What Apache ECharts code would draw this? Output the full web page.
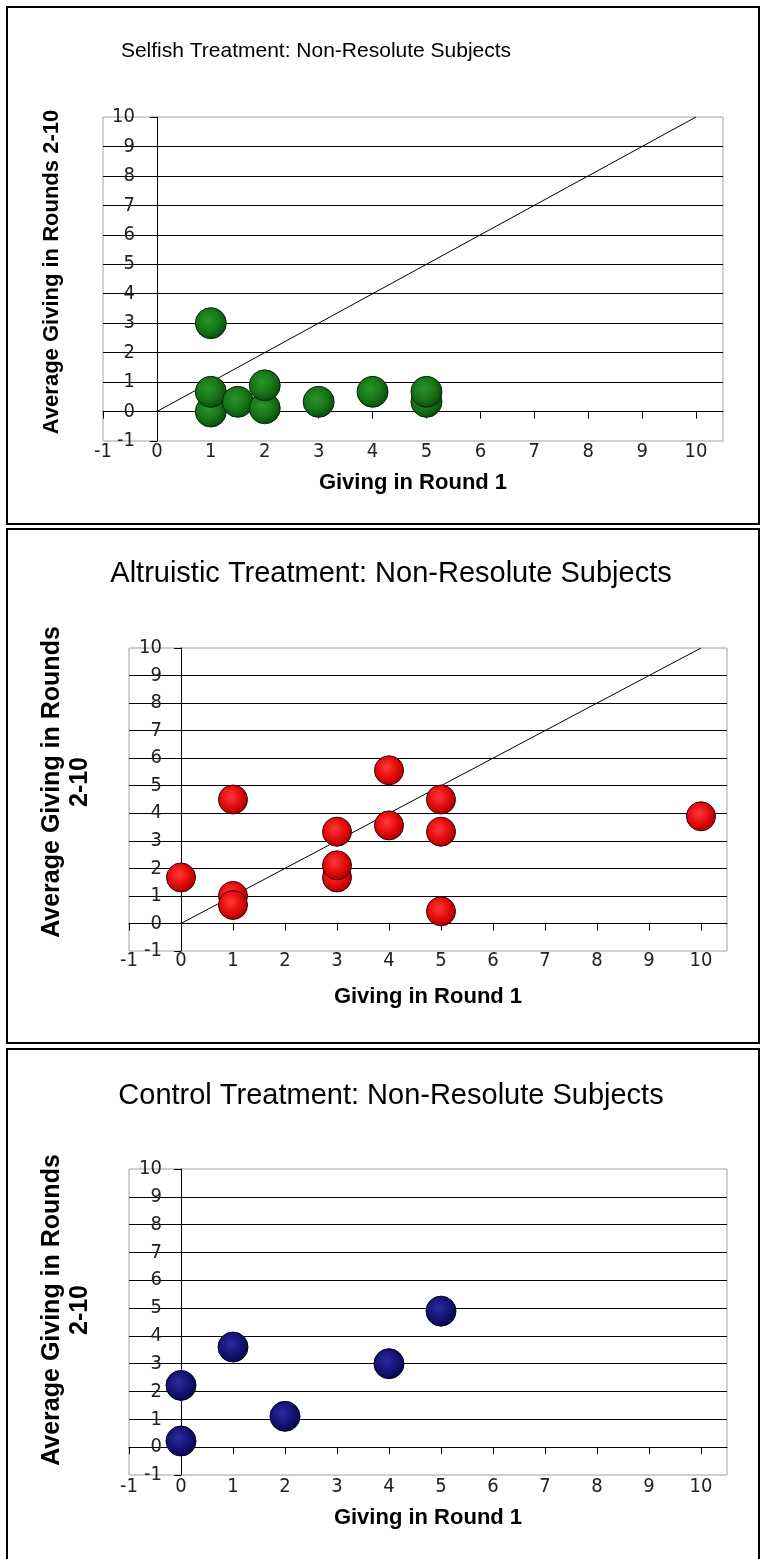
<!DOCTYPE html>
<html>
<head>
<meta charset="utf-8">
<script src="https://cdn.jsdelivr.net/npm/echarts@6/dist/echarts.min.js"></script>
<style>
html,body{margin:0;padding:0;background:#fff;}
#c{width:762px;height:1559px;}
</style>
</head>
<body>
<div id="c"></div>
<script>
// ---- data ----
const xTicks = [-1, 0, 1, 2, 3, 4, 5, 6, 7, 8, 9, 10];
const diagonal = [[0, 0], [10, 10]];

const selfishX = [1, 1, 1, 1.5, 2, 2, 3, 4, 5, 5];
const selfishY = [0, 0.67, 3, 0.33, 0.11, 0.89, 0.33, 0.67, 0.33, 0.67];

const altruisticX = [0, 1, 1, 1, 3, 3, 3, 4, 4, 5, 5, 5, 10];
const altruisticY = [1.67, 1.0, 0.67, 4.5, 1.67, 2.11, 3.33, 3.56, 5.56, 0.44, 3.33, 4.5, 3.89];

const controlX = [0, 0, 1, 2, 4, 5];
const controlY = [0.22, 2.22, 3.6, 1.11, 3.0, 4.89];

const titles = [
  'Selfish Treatment: Non-Resolute Subjects',
  'Altruistic Treatment: Non-Resolute Subjects',
  'Control Treatment: Non-Resolute Subjects'
];
const xTitle = 'Giving in Round 1';
const yTitles = ['Average Giving in Rounds 2-10', 'Average Giving in Rounds\n2-10', 'Average Giving in Rounds\n2-10'];

// ---- helpers ----
const pairs = (xs, ys) => xs.map((x, i) => [x, ys[i]]);
const tickFont = "'Liberation Sans Narrow', 'Arial Narrow', 'DejaVu Sans Condensed', 'Liberation Sans', Arial, sans-serif";
const textFont = "'Liberation Sans', Arial, sans-serif";

const grids = [
  {left: 103, top: 117, width: 620, height: 324},
  {left: 129, top: 648, width: 598, height: 303},
  {left: 129, top: 1169, width: 598, height: 306}
];
const xLabelMargin = [1, 0, 2];
const yLabelMargin = [32, 33, 33];

function sphere(c0, c1, c2) {
  return {
    type: 'radial', x: 0.42, y: 0.4, r: 0.62,
    colorStops: [
      {offset: 0, color: c0},
      {offset: 0.55, color: c1},
      {offset: 1, color: c2}
    ]
  };
}
const styles = [
  {color: sphere('#2a952a', '#187618', '#0a480a'), borderColor: '#062806'},
  {color: sphere('#ff3a3a', '#e60c0c', '#a30000'), borderColor: '#3a0000'},
  {color: sphere('#2c2ca0', '#141478', '#06064a'), borderColor: '#000022'}
];
const sizes = [31, 29, 30];

const option = {
  animation: false,
  backgroundColor: '#fff',
  grid: grids.map(g => Object.assign({
    show: true, borderColor: '#a0a0a0', borderWidth: 1,
    backgroundColor: 'transparent', containLabel: false, outerBoundsMode: 'none'
  }, g)),
  xAxis: grids.map((g, i) => ({
    type: 'value', gridIndex: i, min: -1, max: 10.5, interval: 1,
    axisLine: {onZero: true, lineStyle: {color: '#000', width: 1}},
    axisTick: {show: true, length: 7, lineStyle: {color: '#000'}, customValues: xTicks},
    axisLabel: {
      color: '#222', fontFamily: tickFont, fontSize: 20, margin: xLabelMargin[i],
      customValues: xTicks
    },
    splitLine: {show: false}
  })),
  yAxis: grids.map((g, i) => ({
    type: 'value', gridIndex: i, min: -1, max: 10, interval: 1,
    axisLine: {show: true, onZero: true, lineStyle: {color: '#000', width: 1}},
    axisTick: {show: true, inside: false, length: 7, lineStyle: {color: '#000'}},
    axisLabel: {color: '#222', fontFamily: tickFont, fontSize: 20, inside: true, align: 'right', margin: yLabelMargin[i]},
    splitLine: {show: true, showMinLine: false, showMaxLine: false, lineStyle: {color: '#000', width: 1}}
  })),
  series: [
    {type: 'line', xAxisIndex: 0, yAxisIndex: 0, data: diagonal, symbol: 'none',
     lineStyle: {color: '#000', width: 1}, z: 3},
    {type: 'line', xAxisIndex: 1, yAxisIndex: 1, data: diagonal, symbol: 'none',
     lineStyle: {color: '#000', width: 1}, z: 3},
    {type: 'scatter', xAxisIndex: 0, yAxisIndex: 0, data: pairs(selfishX, selfishY),
     symbolSize: sizes[0], itemStyle: Object.assign({borderWidth: 1, opacity: 1}, styles[0]), z: 5},
    {type: 'scatter', xAxisIndex: 1, yAxisIndex: 1, data: pairs(altruisticX, altruisticY),
     symbolSize: sizes[1], itemStyle: Object.assign({borderWidth: 1, opacity: 1}, styles[1]), z: 5},
    {type: 'scatter', xAxisIndex: 2, yAxisIndex: 2, data: pairs(controlX, controlY),
     symbolSize: sizes[2], itemStyle: Object.assign({borderWidth: 1, opacity: 1}, styles[2]), z: 5}
  ],
  graphic: [
    // panel borders
    {type: 'rect', shape: {x: 7, y: 7, width: 752, height: 517}, style: {fill: 'none', stroke: '#000', lineWidth: 2}, silent: true},
    {type: 'rect', shape: {x: 7, y: 529, width: 752, height: 514}, style: {fill: 'none', stroke: '#000', lineWidth: 2}, silent: true},
    {type: 'rect', shape: {x: 7, y: 1049, width: 752, height: 530}, style: {fill: 'none', stroke: '#000', lineWidth: 2}, silent: true},
    // chart titles
    {type: 'text', x: 316, y: 51, style: {text: titles[0], font: '21px ' + textFont, fill: '#000', align: 'center', verticalAlign: 'middle'}},
    {type: 'text', x: 391, y: 574, style: {text: titles[1], font: '29px ' + textFont, fill: '#000', align: 'center', verticalAlign: 'middle'}},
    {type: 'text', x: 391, y: 1096, style: {text: titles[2], font: '29px ' + textFont, fill: '#000', align: 'center', verticalAlign: 'middle'}},
    // x axis titles
    {type: 'text', x: 413, y: 483, style: {text: xTitle, font: 'bold 22px ' + textFont, fill: '#000', align: 'center', verticalAlign: 'middle'}},
    {type: 'text', x: 428, y: 997, style: {text: xTitle, font: 'bold 22px ' + textFont, fill: '#000', align: 'center', verticalAlign: 'middle'}},
    {type: 'text', x: 428, y: 1518, style: {text: xTitle, font: 'bold 22px ' + textFont, fill: '#000', align: 'center', verticalAlign: 'middle'}},
    // y axis titles
    {type: 'text', x: 52, y: 272, rotation: Math.PI / 2, style: {text: yTitles[0], font: 'bold 22px ' + textFont, fill: '#000', align: 'center', verticalAlign: 'middle'}},
    {type: 'text', x: 66, y: 782, rotation: Math.PI / 2, style: {text: yTitles[1], font: 'bold 25px ' + textFont, lineHeight: 28, fill: '#000', align: 'center', verticalAlign: 'middle'}},
    {type: 'text', x: 66, y: 1310, rotation: Math.PI / 2, style: {text: yTitles[2], font: 'bold 25px ' + textFont, lineHeight: 28, fill: '#000', align: 'center', verticalAlign: 'middle'}}
  ]
};

const chart = echarts.init(document.getElementById('c'), null, {renderer: 'canvas', width: 762, height: 1559});
chart.setOption(option);
</script>
</body>
</html>
